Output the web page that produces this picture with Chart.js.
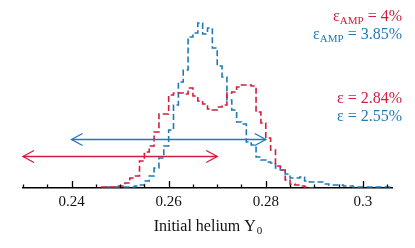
<!DOCTYPE html>
<html><head><meta charset="utf-8">
<script src="https://cdn.jsdelivr.net/npm/chart.js@4/dist/chart.umd.min.js"></script>
<style>html,body{margin:0;padding:0;background:#fff;overflow:hidden}#wrap{width:415px;height:248px;position:relative}</style>
</head><body><div id="wrap"><canvas id="c" width="415" height="248"></canvas></div>
<script>
// ---- data ----
const binWidth = 0.001;
const redStart = 0.246;   // left edge of first red bin
const redCounts = [1,1,1,2,2,5,10,12,27,36,42,56,74,74,93,95,95,94,100,92,87,84,79,78,81,83,95,96,101,103,103,102,76,65,50,38,22,18,8,4,3,2,1,0];
const blueStart = 0.247;  // left edge of first blue bin
const blueCounts = [1,1,1,1,1,1,2,3,7,12,20,30,42,58,83,106,118,151,155,165,154,160,140,122,111,88,78,66,64,46,43,31,28,26,25,20,18,14,10,10,11,7,6,6,6,4,3,3,3,2,2,1,1,1,1,1,1,1,1];
const redInterval = [0.23, 0.27];
const blueInterval = [0.24, 0.28];
const tickLabels = ['0.24','0.26','0.28','0.3'];
const majorTicks = [0.24,0.26,0.28,0.30];
const minorTicks = [0.23,0.235,0.245,0.25,0.255,0.265,0.27,0.275,0.285,0.29,0.295,0.305];
const legendLines = [
  {sym:'ε', sub:'AMP', txt:' = 4%', series:'red'},
  {sym:'ε', sub:'AMP', txt:' = 3.85%', series:'blue'},
  {sym:'ε', sub:'', txt:' = 2.84%', series:'red'},
  {sym:'ε', sub:'', txt:' = 2.55%', series:'blue'}
];
const axisTitle = 'Initial helium Y';
const axisTitleSub = '0';

// ---- styles ----
const RED = '#d41c3f';
const BLUE = '#1f7ab8';
const FONT = '"Liberation Serif", "DejaVu Serif", serif';

function steps(start, counts){
  const pts = counts.map((v,i)=>({x: start + i*binWidth, y: v}));
  pts.push({x: start + counts.length*binWidth, y: counts[counts.length-1]});
  return pts;
}

function richWidth(ctx, l, size){
  ctx.font = size+'px '+FONT; let w = ctx.measureText(l.sym).width;
  if (l.sub){ ctx.font = Math.round(size*0.68)+'px '+FONT; w += ctx.measureText(l.sub).width; }
  ctx.font = size+'px '+FONT; w += ctx.measureText(l.txt).width;
  return w;
}
function drawRich(ctx, l, xRight, base, size, color){
  const w = richWidth(ctx, l, size);
  let x = xRight - w;
  ctx.fillStyle = color; ctx.textBaseline = 'alphabetic'; ctx.textAlign = 'left';
  ctx.font = size+'px '+FONT; ctx.fillText(l.sym, x, base); x += ctx.measureText(l.sym).width;
  if (l.sub){ ctx.font = Math.round(size*0.68)+'px '+FONT; ctx.fillText(l.sub, x, base+3); x += ctx.measureText(l.sub).width; }
  ctx.font = size+'px '+FONT; ctx.fillText(l.txt, x, base);
}

const overlay = {
  id:'overlay',
  afterDatasetsDraw(chart){
    const ctx = chart.ctx, xs = chart.scales.x, ys = chart.scales.y;
    const y0 = chart.chartArea.bottom;
    ctx.save();
    // ticks pointing up
    ctx.strokeStyle = '#000'; ctx.lineWidth = 1.3;
    majorTicks.forEach(v=>{ const x = Math.round(xs.getPixelForValue(v))+0.5; ctx.beginPath(); ctx.moveTo(x,y0); ctx.lineTo(x,y0-7); ctx.stroke(); });
    minorTicks.forEach(v=>{ const x = Math.round(xs.getPixelForValue(v))+0.5; ctx.beginPath(); ctx.moveTo(x,y0); ctx.lineTo(x,y0-3.5); ctx.stroke(); });
    // arrows
    function arrow(iv, yVal, color){
      const xa = xs.getPixelForValue(iv[0]), xb = xs.getPixelForValue(iv[1]);
      const y = Math.round(ys.getPixelForValue(yVal))+0.5;
      ctx.strokeStyle = color; ctx.lineWidth = 1.3;
      ctx.beginPath(); ctx.moveTo(xa,y); ctx.lineTo(xb,y); ctx.stroke();
      ctx.beginPath(); ctx.moveTo(xa+11,y-6); ctx.lineTo(xa,y); ctx.lineTo(xa+11,y+6); ctx.stroke();
      ctx.beginPath(); ctx.moveTo(xb-11,y-6); ctx.lineTo(xb,y); ctx.lineTo(xb-11,y+6); ctx.stroke();
    }
    arrow(blueInterval, 49, BLUE);
    arrow(redInterval, 32, RED);
    // legend texts
    const bases = [20.5, 39, 103, 120.5];
    legendLines.forEach((l,i)=> drawRich(ctx, l, 402, bases[i], 16, l.series==='red'?RED:BLUE));
    // axis title
    ctx.fillStyle = '#111';
    ctx.font = '16px '+FONT; const w1 = ctx.measureText(axisTitle).width;
    ctx.font = '11px '+FONT; const w2 = ctx.measureText(axisTitleSub).width;
    const cx = (chart.chartArea.left + chart.chartArea.right)/2;
    let x = cx - (w1+w2)/2;
    ctx.textAlign='left'; ctx.textBaseline='alphabetic';
    ctx.font = '16px '+FONT; ctx.fillText(axisTitle, x, 230.5);
    ctx.font = '11px '+FONT; ctx.fillText(axisTitleSub, x+w1+1, 233.5);
    ctx.restore();
  }
};

new Chart(document.getElementById('c'), {
  type:'line',
  data:{ datasets:[
    {data: steps(redStart, redCounts), borderColor: RED, borderWidth:1.6, borderDash:[6,3], stepped:true, pointRadius:0, fill:false},
    {data: steps(blueStart, blueCounts), borderColor: BLUE, borderWidth:1.6, borderDash:[6,3], stepped:true, pointRadius:0, fill:false}
  ]},
  options:{
    responsive:false, animation:false, devicePixelRatio:1,
    layout:{padding:{left:23,right:23,top:0,bottom:0}},
    plugins:{legend:{display:false}, tooltip:{enabled:false}},
    scales:{
      x:{type:'linear', min:0.23, max:0.306,
         grid:{display:false, drawTicks:false},
         border:{display:true, color:'#000', width:1.5},
         ticks:{stepSize:0.005, autoSkip:false, maxRotation:0, padding:5, color:'#111',
                font:{family:FONT, size:15},
                callback:(v)=>{ const i = majorTicks.findIndex(t=>Math.abs(t-v)<1e-7); return i>=0 ? tickLabels[i] : ''; }},
         afterFit:(s)=>{ s.height = 60; }
      },
      y:{display:false, min:0, max:188}
    }
  },
  plugins:[overlay]
});
</script></body></html>
